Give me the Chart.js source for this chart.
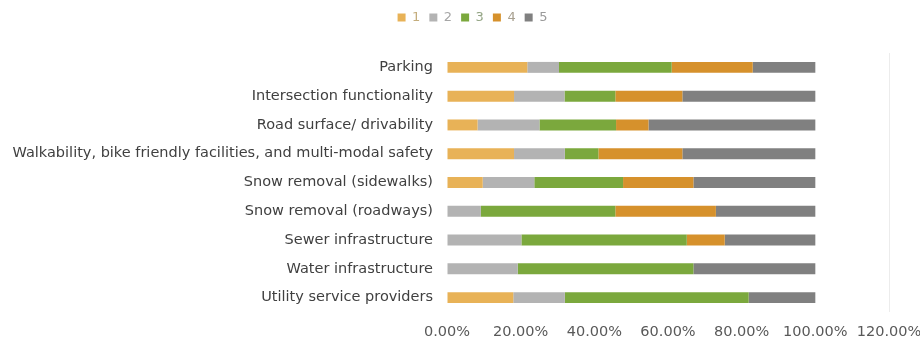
<!DOCTYPE html>
<html>
<head>
<meta charset="utf-8">
<script src="https://cdn.jsdelivr.net/npm/chart.js@4/dist/chart.umd.min.js"></script>
<style>
  html, body { margin: 0; padding: 0; background: #fff; }
  #wrap { width: 920px; height: 342px; position: relative; }
</style>
</head>
<body>
<div id="wrap"><canvas id="ratings"></canvas></div>
<script>
// survey categories, top to bottom
const categories = [
  'Parking',
  'Intersection functionality',
  'Road surface/ drivability',
  'Walkability, bike friendly facilities, and multi-modal safety',
  'Snow removal (sidewalks)',
  'Snow removal (roadways)',
  'Sewer infrastructure',
  'Water infrastructure',
  'Utility service providers'
];

// share of responses per rating (%)
const rating1 = [21.8, 18.2, 8.3, 18.2, 9.7, 0, 0, 0, 18.0];
const rating2 = [8.6, 13.7, 16.8, 13.8, 14.0, 9.2, 20.2, 19.2, 14.0];
const rating3 = [30.6, 13.8, 20.8, 9.1, 24.1, 36.5, 44.9, 47.7, 49.9];
const rating4 = [22.0, 18.2, 8.8, 22.8, 19.1, 27.3, 10.3, 0, 0];
const rating5 = [17.0, 36.1, 45.3, 36.1, 33.1, 27.0, 24.6, 33.1, 18.1];

const ratingLabels = ['1', '2', '3', '4', '5'];
const xTicks = [0, 20, 40, 60, 80, 100, 120];

const colors = ['#E8B257', '#B3B3B3', '#7BA83D', '#D6912C', '#808080'];
const legendText = ['#c4ad7c', '#a6a6a6', '#94a585', '#a8a090', '#9a9a9a'];
const series = [rating1, rating2, rating3, rating4, rating5];

const fontFamily = '"DejaVu Sans", Verdana, sans-serif';

// legend sits above the top padding, a little right of centre
const legendShift = {
  id: 'legendShift',
  afterLayout(chart) {
    const lg = chart.legend;
    if (!lg) return;
    lg.left += 28;
    lg.right += 28;
    lg.top -= 19;
    lg.bottom -= 19;
  }
};

new Chart(document.getElementById('ratings').getContext('2d'), {
  type: 'bar',
  data: {
    labels: categories,
    datasets: series.map((vals, i) => ({
      label: ratingLabels[i],
      data: vals,
      backgroundColor: colors[i],
      borderWidth: 0,
      barPercentage: 0.38,
      categoryPercentage: 1
    }))
  },
  options: {
    indexAxis: 'y',
    responsive: true,
    maintainAspectRatio: false,
    animation: false,
    layout: { padding: { top: 21, right: 31, bottom: 0, left: 0 } },
    plugins: {
      tooltip: { enabled: false },
      legend: {
        position: 'top',
        labels: {
          boxWidth: 8,
          boxHeight: 8,
          padding: 9,
          font: { family: fontFamily, size: 13 },
          generateLabels: chart => chart.data.datasets.map((ds, i) => ({
            text: ds.label,
            fillStyle: ds.backgroundColor,
            strokeStyle: ds.backgroundColor,
            lineWidth: 0,
            fontColor: legendText[i],
            datasetIndex: i,
            hidden: false
          }))
        }
      }
    },
    scales: {
      x: {
        stacked: true,
        min: 0,
        max: 120,
        afterBuildTicks: axis => { axis.ticks = xTicks.map(v => ({ value: v })); },
        afterFit: axis => { axis.height = 30; axis.paddingRight = 0; axis.paddingLeft = 0; },
        ticks: {
          color: '#595959',
          padding: 12,
          font: { family: fontFamily, size: 14.5 },
          callback: v => v.toFixed(2) + '%'
        },
        grid: {
          drawTicks: false,
          color: ctx => ctx.tick && ctx.tick.value === 120 ? '#ececec' : 'rgba(0,0,0,0)'
        },
        border: { display: false }
      },
      y: {
        stacked: true,
        afterFit: axis => { axis.width = 447; axis.paddingTop = 0; axis.paddingBottom = 0; },
        ticks: {
          color: '#404040',
          padding: 14,
          font: { family: fontFamily, size: 14.5 }
        },
        grid: { display: false, drawTicks: false },
        border: { display: false }
      }
    }
  },
  plugins: [legendShift]
});
</script>
</body>
</html>
